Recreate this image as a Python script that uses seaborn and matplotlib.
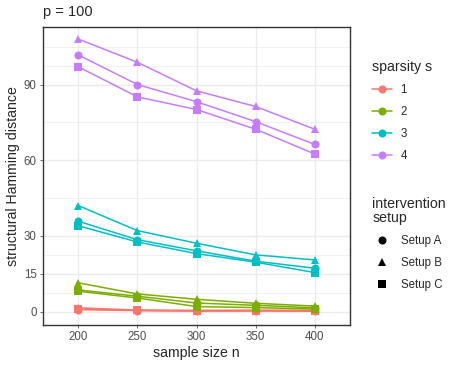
import numpy as np
import pandas as pd
import matplotlib
matplotlib.use("Agg")
import matplotlib.pyplot as plt
from matplotlib.lines import Line2D
import seaborn as sns

# 데이터
sample_sizes = [200, 250, 300, 350, 400]
sparsity_levels = ["1", "2", "3", "4"]
setups = ["Setup A", "Setup B", "Setup C"]

shd_s1_A = [0.8, 0.4, 0.2, 0.3, 0.2]
shd_s1_B = [1.5, 0.6, 0.5, 0.6, 0.5]
shd_s1_C = [1.0, 0.5, 0.3, 0.3, 0.2]

shd_s2_A = [8.6, 6.1, 3.4, 2.5, 1.5]
shd_s2_B = [11.4, 7.0, 4.9, 3.3, 2.2]
shd_s2_C = [8.1, 5.4, 2.0, 1.6, 1.0]

shd_s3_A = [35.8, 28.5, 24.1, 20.0, 17.2]
shd_s3_B = [42.0, 32.1, 27.1, 22.5, 20.5]
shd_s3_C = [34.0, 27.6, 23.0, 19.6, 15.5]

shd_s4_A = [101.7, 90.0, 83.2, 75.3, 66.3]
shd_s4_B = [108.0, 98.8, 87.5, 81.3, 72.3]
shd_s4_C = [97.0, 85.1, 80.1, 72.3, 62.5]

series = {
    ("1", "Setup A"): shd_s1_A, ("1", "Setup B"): shd_s1_B, ("1", "Setup C"): shd_s1_C,
    ("2", "Setup A"): shd_s2_A, ("2", "Setup B"): shd_s2_B, ("2", "Setup C"): shd_s2_C,
    ("3", "Setup A"): shd_s3_A, ("3", "Setup B"): shd_s3_B, ("3", "Setup C"): shd_s3_C,
    ("4", "Setup A"): shd_s4_A, ("4", "Setup B"): shd_s4_B, ("4", "Setup C"): shd_s4_C,
}
rows = []
for (s, setup), vals in series.items():
    for n, v in zip(sample_sizes, vals):
        rows.append({"n": n, "shd": v, "s": s, "setup": setup})
df = pd.DataFrame(rows)

colors = ["#F8766D", "#7CAE00", "#00BFC4", "#C77CFF"]
palette = dict(zip(sparsity_levels, colors))
markers = {"Setup A": "o", "Setup B": "^", "Setup C": "s"}

sns.set_style("white")
plt.rcParams["font.family"] = ["Liberation Sans", "DejaVu Sans"]

fig = plt.figure(figsize=(4.57, 3.66), dpi=100)
ax = fig.add_axes([43 / 457, 1 - 325 / 366, 307 / 457, 298 / 366])

sns.lineplot(data=df, x="n", y="shd", hue="s", style="setup", palette=palette,
             markers=markers, dashes=False, markersize=5.8, linewidth=1.1,
             markeredgewidth=0, legend=False, ax=ax, zorder=3)

ax.set_xlim(170, 430)
ax.set_ylim(-5.3, 112.8)
ax.set_xticks(sample_sizes)
ax.set_yticks([0, 15, 30, 60, 90])
ax.set_yticks([7.5, 22.5, 45, 75, 97.5, 105], minor=True)
ax.grid(which="major", color="#EBEBEB", linewidth=1.0, zorder=0)
ax.grid(which="minor", axis="y", color="#EBEBEB", linewidth=0.5, zorder=0)
ax.set_axisbelow(True)
ax.tick_params(which="major", length=2.5, width=0.5, color="#333333",
               labelsize=8.3, labelcolor="#4D4D4D", pad=2, left=True, bottom=True)
ax.tick_params(which="minor", length=0)
for sp in ax.spines.values():
    sp.set_color("#333333")
    sp.set_linewidth(1.0)

ax.set_xlabel("sample size n", fontsize=10.2, labelpad=2)
ax.set_ylabel("structural Hamming distance", fontsize=10.2, labelpad=3)
fig.text(43 / 457, 1 - 12 / 366, "p = 100", fontsize=10.5, va="center", ha="left")

# 범례 1: sparsity
h1 = [Line2D([0], [0], color=c, marker="o", markersize=5.8, linewidth=1.1,
             markeredgewidth=0) for c in colors]
leg1 = fig.legend(h1, sparsity_levels, title="sparsity s", loc="upper left",
                  bbox_to_anchor=(362 / 457, 1 - 50 / 366), frameon=False,
                  fontsize=8.3, title_fontsize=10.2, handlelength=1.7,
                  labelspacing=0.86, handletextpad=0.75, alignment="left")

# 범례 2: setup
h2 = [Line2D([0], [0], color="black", marker=markers[s], linestyle="None",
             markersize=5.8, markeredgewidth=0) for s in setups]
leg2 = fig.legend(h2, setups, title="intervention\nsetup", loc="upper left",
                  bbox_to_anchor=(362 / 457, 1 - 187 / 366), frameon=False,
                  fontsize=8.3, title_fontsize=10.2, handlelength=1.7,
                  labelspacing=0.86, handletextpad=0.75, alignment="left")
leg2.get_title().set_linespacing(0.95)

fig.savefig("out.png", dpi=100)
